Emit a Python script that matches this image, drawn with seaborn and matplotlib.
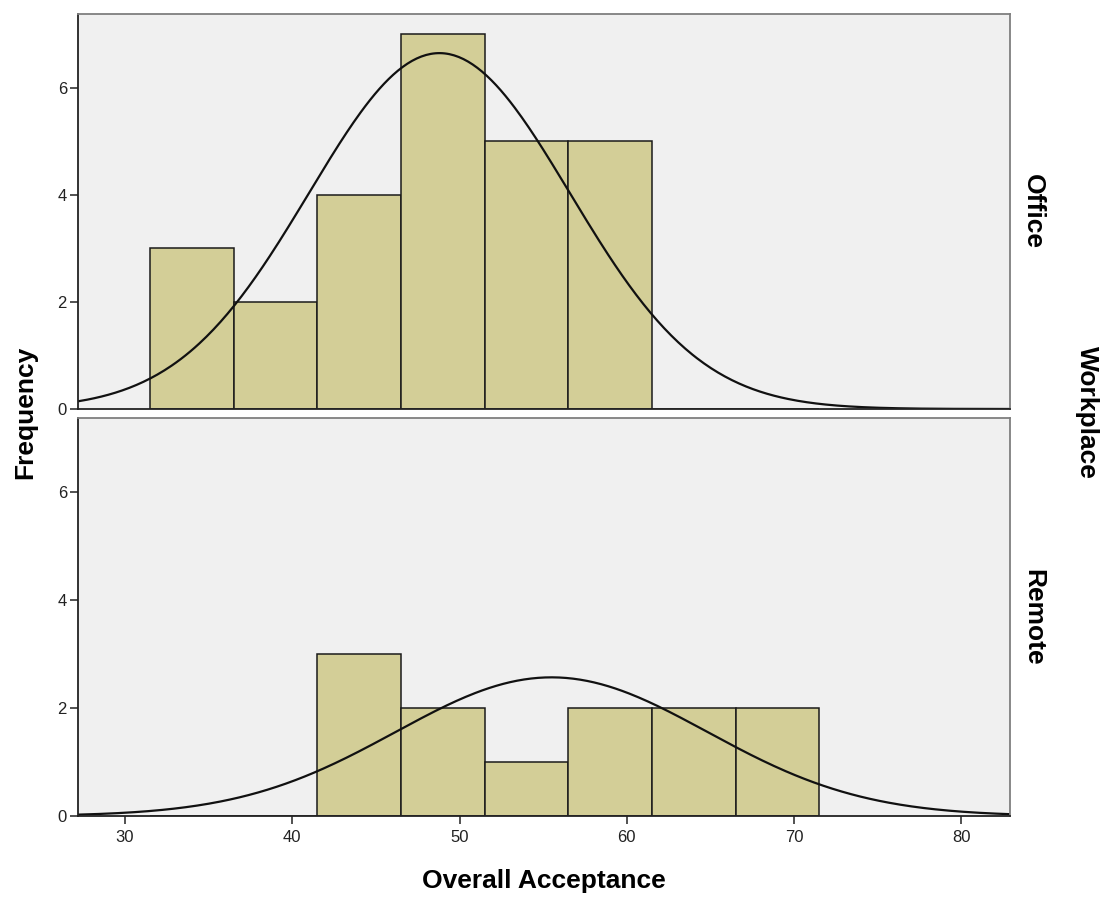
import numpy as np
import pandas as pd
import matplotlib
matplotlib.use("Agg")
import matplotlib.pyplot as plt
import seaborn as sns

# ---- data ----
bin_edges = [31.5, 36.5, 41.5, 46.5, 51.5, 56.5, 61.5, 66.5, 71.5]
groups = ["Office", "Remote"]
office_counts = [3, 2, 4, 7, 5, 5, 0, 0]
remote_counts = [0, 0, 3, 2, 1, 2, 2, 2]
# fitted normal curve parameters (mean, sd)
office_fit = [48.8, 7.80]
remote_fit = [55.5, 9.31]
x_ticks = [30, 40, 50, 60, 70, 80]
y_ticks = [0, 2, 4, 6]

sns.set_theme(style="white")
plt.rcParams['font.family'] = ['Liberation Sans', 'DejaVu Sans']
plt.rcParams['text.color'] = 'black'

bar_color = "#D3CE97"
bg = "#F0F0F0"

fig = plt.figure(figsize=(11.02, 8.97), dpi=100)
left, right = 78 / 1102, 1010 / 1102
ax_top = fig.add_axes([left, 1 - 409 / 897, right - left, (409 - 14) / 897])
ax_bot = fig.add_axes([left, 1 - 816 / 897, right - left, (816 - 418) / 897])

centers = [(a + b) / 2 for a, b in zip(bin_edges[:-1], bin_edges[1:])]
xs = np.linspace(27.2, 82.9, 400)

tick_fs = 12
lab_fs = 19

for ax, name, counts, fit in [(ax_top, groups[0], office_counts, office_fit),
                              (ax_bot, groups[1], remote_counts, remote_fit)]:
    df = pd.DataFrame({"center": centers, "count": counts})
    df = df[df["count"] > 0]
    sns.histplot(data=df, x="center", weights="count", bins=bin_edges, ax=ax,
                 color=bar_color, alpha=1.0, edgecolor="#1a1a1a", linewidth=1.1)
    n = sum(counts)
    mu, sd = fit
    binw = bin_edges[1] - bin_edges[0]
    ys = n * binw / (sd * np.sqrt(2 * np.pi)) * np.exp(-(xs - mu) ** 2 / (2 * sd ** 2))
    sns.lineplot(x=xs, y=ys, ax=ax, color="#111111", linewidth=1.6)
    ax.set_facecolor(bg)
    ax.set_xlim(27.2, 82.9)
    ax.set_ylim(0, 7.38)
    ax.set_yticks(y_ticks)
    ax.set_yticklabels([str(t) for t in y_ticks], fontsize=tick_fs, color="#222222")
    ax.set_xlabel("")
    ax.set_ylabel("")
    for s in ["top", "right"]:
        ax.spines[s].set_color("#7f7f7f")
        ax.spines[s].set_linewidth(1.3)
    for s in ["left", "bottom"]:
        ax.spines[s].set_color("#222222")
        ax.spines[s].set_linewidth(1.3)
    ax.tick_params(axis="y", direction="out", length=6, width=1.1, color="#222222", pad=2, left=True)
    ax.text(1.012, 0.5, name, transform=ax.transAxes, rotation=-90,
            ha="left", va="center", fontsize=lab_fs, fontweight="bold", color="black")

ax_top.set_xticks(x_ticks)
ax_top.tick_params(axis="x", bottom=False, labelbottom=False)
ax_bot.set_xticks(x_ticks)
ax_bot.set_xticklabels([str(t) for t in x_ticks], fontsize=tick_fs, color="#222222")
ax_bot.tick_params(axis="x", direction="out", length=6, width=1.1, color="#222222", bottom=True, pad=4)

fig.text(25 / 1102, 1 - 412 / 897, "Frequency", rotation=90, ha="center", va="center",
         fontsize=lab_fs, fontweight="bold", color="black")
fig.text(1087 / 1102, 1 - 412 / 897, "Workplace", rotation=-90, ha="center", va="center",
         fontsize=lab_fs, fontweight="bold", color="black")
fig.text(544 / 1102, 1 - 881 / 897, "Overall Acceptance", ha="center", va="center",
         fontsize=lab_fs, fontweight="bold", color="black")

fig.savefig("out.png", dpi=100, facecolor="white")
